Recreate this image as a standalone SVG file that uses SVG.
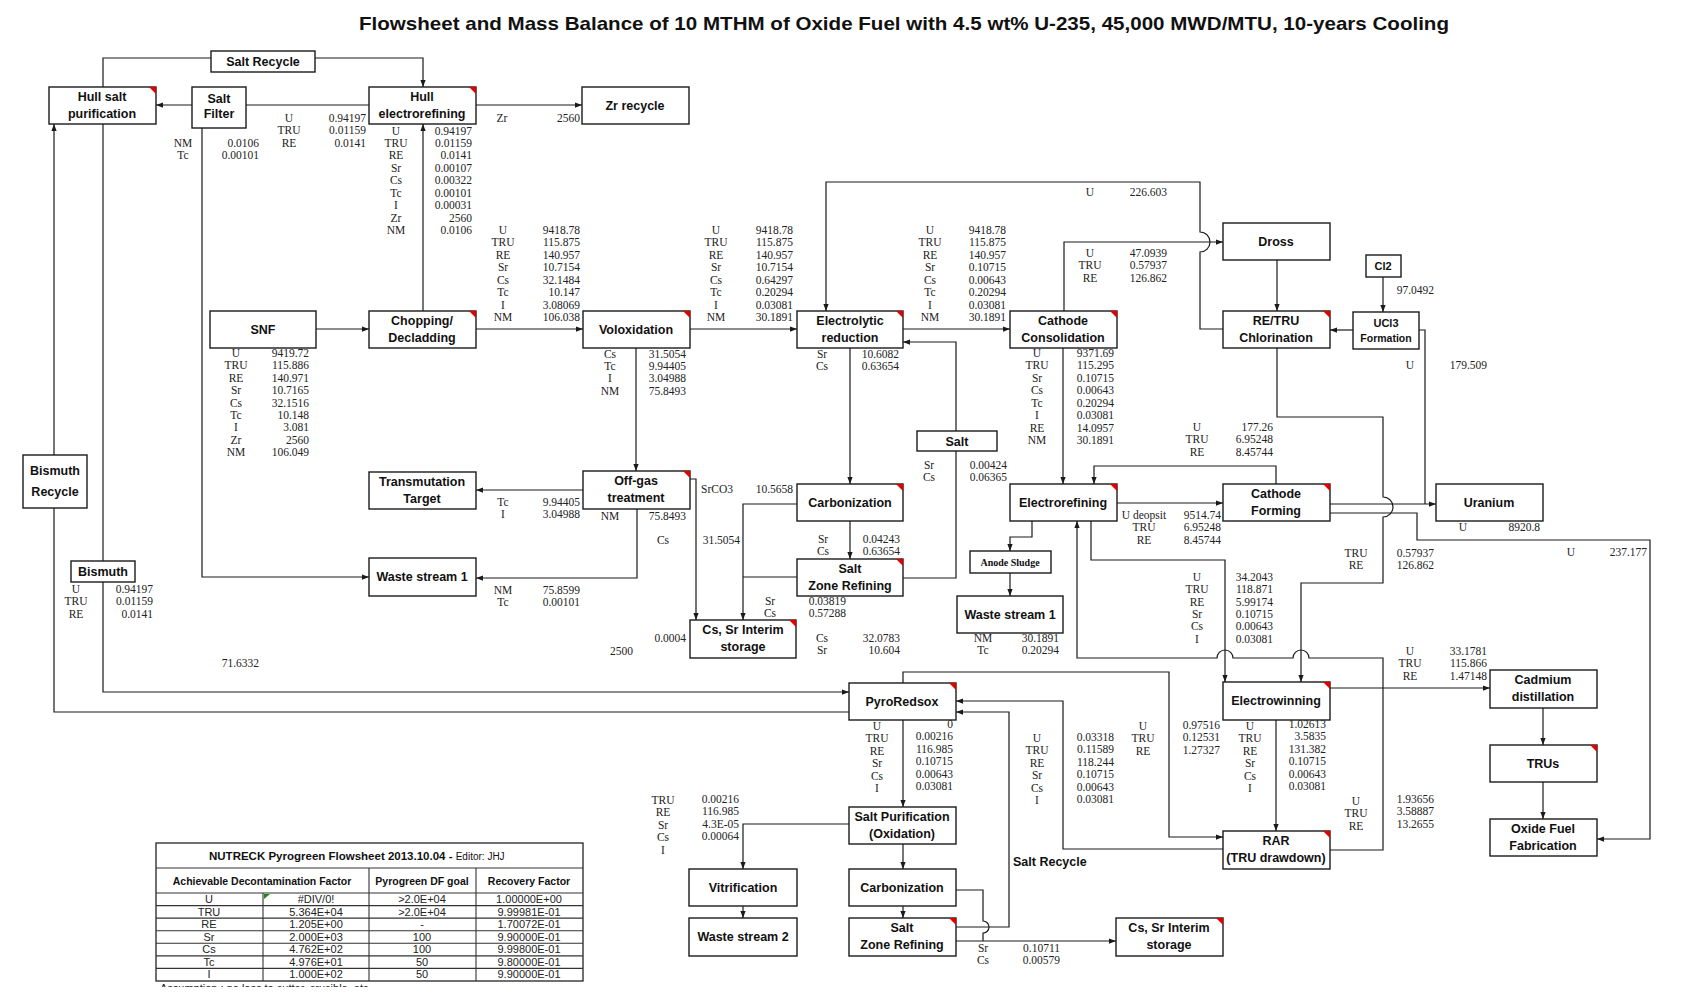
<svg xmlns="http://www.w3.org/2000/svg" width="1681" height="997" viewBox="0 0 1681 997">
<defs>
<style>
.b{fill:#fff;stroke:#1a1a1a;stroke-width:1.4}
.r{fill:#e00000}
.t{font-family:"Liberation Sans",Arial,sans-serif;font-weight:bold;font-size:12.5px;text-anchor:middle;fill:#111}
.ts{font-family:"Liberation Sans",Arial,sans-serif;font-weight:bold;font-size:12.5px;text-anchor:start;fill:#111}
.c{fill:none;stroke:#1a1a1a;stroke-width:1.2}
.a{marker-end:url(#ah)}
.m{font-family:"Liberation Serif","Times New Roman",serif;font-size:11.5px;fill:#222;text-anchor:middle}
.e{font-family:"Liberation Serif","Times New Roman",serif;font-size:11.5px;fill:#222;text-anchor:end}
.s{font-family:"Liberation Serif","Times New Roman",serif;font-size:11.5px;fill:#222;text-anchor:start}
.tb{font-family:"Liberation Sans",Arial,sans-serif;font-size:11px;fill:#222;text-anchor:middle}
.th{font-family:"Liberation Sans",Arial,sans-serif;font-size:10.5px;font-weight:bold;fill:#111;text-anchor:middle}
.tl{fill:none;stroke:#333;stroke-width:1.1}
</style>
<marker id="ah" viewBox="0 0 8 8" refX="8" refY="4" markerWidth="7" markerHeight="7" orient="auto" markerUnits="userSpaceOnUse"><path d="M0,1 L8,4 L0,7 z" fill="#1a1a1a"/></marker>
<clipPath id="cut"><rect x="0" y="960" width="700" height="27"/></clipPath>
</defs>
<rect width="1681" height="997" fill="#fff"/>
<text x="904" y="30" font-family="'Liberation Sans',Arial,sans-serif" font-weight="bold" font-size="19" text-anchor="middle" fill="#111" textLength="1090" lengthAdjust="spacingAndGlyphs">Flowsheet and Mass Balance of 10 MTHM of Oxide Fuel with 4.5 wt% U-235, 45,000 MWD/MTU, 10-years Cooling</text>

<g id="connectors">
<path class="c" d="M103,87V58H211"/>
<path class="c a" d="M315,58H423V87"/>
<path class="c" d="M369,105H246"/>
<path class="c a" d="M192,105H156"/>
<path class="c a" d="M476,105H582"/>
<path class="c a" d="M423,311V124"/>
<path class="c a" d="M316,329H369"/>
<path class="c a" d="M476,329H583"/>
<path class="c a" d="M690,329H797"/>
<path class="c a" d="M903,329H1010"/>
<path class="c a" d="M1223,329H1200V252A10,10 0 0 0 1200,232V182H826V311"/>
<path class="c a" d="M1064,311V242H1223"/>
<path class="c a" d="M1277,260V311"/>
<path class="c a" d="M1383,277V312"/>
<path class="c a" d="M1353,330H1330"/>
<path class="c" d="M1419,330H1425V504"/>
<path class="c a" d="M1063,348V484"/>
<path class="c a" d="M850,348V484"/>
<path class="c a" d="M850,521V559"/>
<path class="c" d="M903,578H956V451"/>
<path class="c a" d="M956,431V342H903"/>
<path class="c a" d="M1117,503H1223"/>
<path class="c a" d="M1276,484V466H1094V484"/>
<path class="c a" d="M1330,504H1436"/>
<path class="c a" d="M1330,513H1417V540H1650V839H1597"/>
<path class="c a" d="M1277,348V417H1383V497A10,10 0 0 1 1383,517V583H1301V682"/>
<path class="c a" d="M1091,521V560H1225V682"/>
<path class="c a" d="M1330,850H1383V658H1309A8,8 0 0 0 1293,658H1233A8,8 0 0 0 1217,658H1077V521"/>
<path class="c a" d="M1276,720V831"/>
<path class="c a" d="M1330,688H1490"/>
<path class="c a" d="M1543,708V745"/>
<path class="c a" d="M1543,782V819"/>
<path class="c a" d="M903,683V672H1169V837H1223"/>
<path class="c a" d="M1223,849H1063V701H956"/>
<path class="c a" d="M956,927H1009V712H956"/>
<path class="c a" d="M903,720V807"/>
<path class="c a" d="M849,824H743V869"/>
<path class="c a" d="M903,844V869"/>
<path class="c a" d="M903,906V918"/>
<path class="c a" d="M743,906V918"/>
<path class="c" d="M956,890H983V921A6,6 0 0 1 983,933V941"/>
<path class="c a" d="M956,941H1116"/>
<path class="c a" d="M636,348V471"/>
<path class="c a" d="M583,490H476"/>
<path class="c a" d="M637,509V578H476"/>
<path class="c a" d="M690,479H696V620"/>
<path class="c a" d="M797,504H743V620"/>
<path class="c" d="M797,577H743"/>
<path class="c a" d="M1032,521V537H1010V551"/>
<path class="c a" d="M1010,573V596"/>
<path class="c a" d="M202,128V577H369"/>
<path class="c" d="M103,124V561"/>
<path class="c a" d="M103,582V692H849"/>
<path class="c" d="M849,712H54V508"/>
<path class="c a" d="M54,455V124"/>
</g>

<g id="n-salt-recycle"><rect class="b" x="211" y="51" width="104" height="21"/><text class="t" x="263" y="66">Salt Recycle</text></g>
<g id="n-hull-salt"><rect class="b" x="49" y="87" width="107" height="37"/><polygon class="r" points="149,87 156,87 156,94"/><text class="t" x="102" y="101">Hull salt</text><text class="t" x="102" y="118">purification</text></g>
<g id="n-salt-filter"><rect class="b" x="192" y="87" width="54" height="41"/><text class="t" x="219" y="103">Salt</text><text class="t" x="219" y="118">Filter</text></g>
<g id="n-hull-er"><rect class="b" x="369" y="87" width="107" height="37"/><polygon class="r" points="469,87 476,87 476,94"/><text class="t" x="422" y="101">Hull</text><text class="t" x="422" y="118">electrorefining</text></g>
<g id="n-zr"><rect class="b" x="582" y="87" width="107" height="37"/><text class="t" x="635" y="110">Zr recycle</text></g>
<g id="n-snf"><rect class="b" x="210" y="311" width="106" height="37"/><text class="t" x="263" y="334">SNF</text></g>
<g id="n-chop"><rect class="b" x="369" y="311" width="107" height="37"/><polygon class="r" points="469,311 476,311 476,318"/><text class="t" x="422" y="325">Chopping/</text><text class="t" x="422" y="342">Decladding</text></g>
<g id="n-volox"><rect class="b" x="583" y="311" width="107" height="37"/><polygon class="r" points="683,311 690,311 690,318"/><text class="t" x="636" y="334">Voloxidation</text></g>
<g id="n-elred"><rect class="b" x="797" y="311" width="106" height="37"/><polygon class="r" points="896,311 903,311 903,318"/><text class="t" x="850" y="325">Electrolytic</text><text class="t" x="850" y="342">reduction</text></g>
<g id="n-cathcons"><rect class="b" x="1010" y="311" width="107" height="37"/><polygon class="r" points="1110,311 1117,311 1117,318"/><text class="t" x="1063" y="325">Cathode</text><text class="t" x="1063" y="342">Consolidation</text></g>
<g id="n-dross"><rect class="b" x="1223" y="223" width="107" height="37"/><text class="t" x="1276" y="246">Dross</text></g>
<g id="n-retru"><rect class="b" x="1223" y="311" width="107" height="37"/><polygon class="r" points="1323,311 1330,311 1330,318"/><text class="t" x="1276" y="325">RE/TRU</text><text class="t" x="1276" y="342">Chlorination</text></g>
<g id="n-cl2"><rect class="b" x="1366" y="255" width="35" height="22"/><text class="t" x="1383" y="270" style="font-size:11px">Cl2</text></g>
<g id="n-ucl3"><rect class="b" x="1353" y="312" width="66" height="37"/><text class="t" x="1386" y="327" style="font-size:11px">UCl3</text><text class="t" x="1386" y="342" style="font-size:10.5px">Formation</text></g>
<g id="n-bi-recycle"><rect class="b" x="23" y="455" width="64" height="53"/><text class="t" x="55" y="475">Bismuth</text><text class="t" x="55" y="496">Recycle</text></g>
<g id="n-transmut"><rect class="b" x="369" y="472" width="107" height="37"/><text class="t" x="422" y="486">Transmutation</text><text class="t" x="422" y="503">Target</text></g>
<g id="n-offgas"><rect class="b" x="583" y="471" width="107" height="38"/><polygon class="r" points="683,471 690,471 690,478"/><text class="t" x="636" y="485">Off-gas</text><text class="t" x="636" y="502">treatment</text></g>
<g id="n-carb-u"><rect class="b" x="797" y="484" width="106" height="37"/><polygon class="r" points="896,484 903,484 903,491"/><text class="t" x="850" y="507">Carbonization</text></g>
<g id="n-salt"><rect class="b" x="917" y="431" width="80" height="20"/><text class="t" x="957" y="445.5">Salt</text></g>
<g id="n-er"><rect class="b" x="1010" y="484" width="107" height="37"/><polygon class="r" points="1110,484 1117,484 1117,491"/><text class="t" x="1063" y="507">Electrorefining</text></g>
<g id="n-cathform"><rect class="b" x="1223" y="484" width="107" height="37"/><polygon class="r" points="1323,484 1330,484 1330,491"/><text class="t" x="1276" y="498">Cathode</text><text class="t" x="1276" y="515">Forming</text></g>
<g id="n-uranium"><rect class="b" x="1436" y="484" width="107" height="37"/><text class="t" x="1489" y="507">Uranium</text></g>
<g id="n-bismuth"><rect class="b" x="71" y="561" width="64" height="21"/><text class="t" x="103" y="576">Bismuth</text></g>
<g id="n-ws1-l"><rect class="b" x="369" y="558" width="107" height="38"/><text class="t" x="422" y="581">Waste stream 1</text></g>
<g id="n-szr-u"><rect class="b" x="797" y="559" width="106" height="37"/><polygon class="r" points="896,559 903,559 903,566"/><text class="t" x="850" y="573">Salt</text><text class="t" x="850" y="590">Zone Refining</text></g>
<g id="n-anode"><rect class="b" x="970" y="551" width="81" height="22"/><text x="1010" y="566" font-family="'Liberation Serif',serif" font-weight="bold" font-size="10" text-anchor="middle" fill="#111">Anode Sludge</text></g>
<g id="n-ws1-r"><rect class="b" x="957" y="596" width="106" height="37"/><text class="t" x="1010" y="619">Waste stream 1</text></g>
<g id="n-cssr-u"><rect class="b" x="690" y="620" width="106" height="38"/><polygon class="r" points="789,620 796,620 796,627"/><text class="t" x="743" y="634">Cs, Sr Interim</text><text class="t" x="743" y="651">storage</text></g>
<g id="n-pyro"><rect class="b" x="849" y="683" width="107" height="37"/><polygon class="r" points="949,683 956,683 956,690"/><text class="t" x="902" y="706">PyroRedsox</text></g>
<g id="n-cadmium"><rect class="b" x="1490" y="670" width="107" height="38"/><text class="t" x="1543" y="684">Cadmium</text><text class="t" x="1543" y="701">distillation</text></g>
<g id="n-ew"><rect class="b" x="1223" y="682" width="107" height="38"/><polygon class="r" points="1323,682 1330,682 1330,689"/><text class="t" x="1276" y="705">Electrowinning</text></g>
<g id="n-trus"><rect class="b" x="1490" y="745" width="107" height="37"/><polygon class="r" points="1590,745 1597,745 1597,752"/><text class="t" x="1543" y="768">TRUs</text></g>
<g id="n-saltpurif"><rect class="b" x="849" y="807" width="107" height="37"/><text class="t" x="902" y="821">Salt Purification</text><text class="t" x="902" y="838">(Oxidation)</text></g>
<g id="n-rar"><rect class="b" x="1223" y="831" width="107" height="38"/><polygon class="r" points="1323,831 1330,831 1330,838"/><text class="t" x="1276" y="845">RAR</text><text class="t" x="1276" y="862">(TRU drawdown)</text></g>
<g id="n-oxide"><rect class="b" x="1490" y="819" width="107" height="37"/><text class="t" x="1543" y="833">Oxide Fuel</text><text class="t" x="1543" y="850">Fabrication</text></g>
<g id="n-vitri"><rect class="b" x="689" y="869" width="108" height="37"/><text class="t" x="743" y="892">Vitrification</text></g>
<g id="n-carb-l"><rect class="b" x="849" y="869" width="107" height="37"/><text class="t" x="902" y="892">Carbonization</text></g>
<g id="n-ws2"><rect class="b" x="689" y="918" width="108" height="38"/><text class="t" x="743" y="941">Waste stream 2</text></g>
<g id="n-szr-l"><rect class="b" x="849" y="918" width="107" height="38"/><polygon class="r" points="949,918 956,918 956,925"/><text class="t" x="902" y="932">Salt</text><text class="t" x="902" y="949">Zone Refining</text></g>
<g id="n-cssr-l"><rect class="b" x="1116" y="918" width="107" height="38"/><polygon class="r" points="1216,918 1223,918 1223,925"/><text class="t" x="1169" y="932">Cs, Sr Interim</text><text class="t" x="1169" y="949">storage</text></g>

<g id="labels">
<text class="ts" x="1013" y="866">Salt Recycle</text>
<text class="m"><tspan x="289" y="122">U</tspan><tspan x="289" dy="12.4">TRU</tspan><tspan x="289" dy="12.4">RE</tspan></text>
<text class="e"><tspan x="366" y="122">0.94197</tspan><tspan x="366" dy="12.4">0.01159</tspan><tspan x="366" dy="12.4">0.0141</tspan></text>
<text class="m"><tspan x="183" y="147">NM</tspan><tspan x="183" dy="12.4">Tc</tspan></text>
<text class="e"><tspan x="259" y="147">0.0106</tspan><tspan x="259" dy="12.4">0.00101</tspan></text>
<text class="m"><tspan x="396" y="134.5">U</tspan><tspan x="396" dy="12.45">TRU</tspan><tspan x="396" dy="12.45">RE</tspan><tspan x="396" dy="12.45">Sr</tspan><tspan x="396" dy="12.45">Cs</tspan><tspan x="396" dy="12.45">Tc</tspan><tspan x="396" dy="12.45">I</tspan><tspan x="396" dy="12.45">Zr</tspan><tspan x="396" dy="12.45">NM</tspan></text>
<text class="e"><tspan x="472" y="134.5">0.94197</tspan><tspan x="472" dy="12.45">0.01159</tspan><tspan x="472" dy="12.45">0.0141</tspan><tspan x="472" dy="12.45">0.00107</tspan><tspan x="472" dy="12.45">0.00322</tspan><tspan x="472" dy="12.45">0.00101</tspan><tspan x="472" dy="12.45">0.00031</tspan><tspan x="472" dy="12.45">2560</tspan><tspan x="472" dy="12.45">0.0106</tspan></text>
<text class="m" x="502" y="122">Zr</text><text class="e" x="580" y="122">2560</text>
<text class="m"><tspan x="503" y="234">U</tspan><tspan x="503" dy="12.45">TRU</tspan><tspan x="503" dy="12.45">RE</tspan><tspan x="503" dy="12.45">Sr</tspan><tspan x="503" dy="12.45">Cs</tspan><tspan x="503" dy="12.45">Tc</tspan><tspan x="503" dy="12.45">I</tspan><tspan x="503" dy="12.45">NM</tspan></text>
<text class="e"><tspan x="580" y="234">9418.78</tspan><tspan x="580" dy="12.45">115.875</tspan><tspan x="580" dy="12.45">140.957</tspan><tspan x="580" dy="12.45">10.7154</tspan><tspan x="580" dy="12.45">32.1484</tspan><tspan x="580" dy="12.45">10.147</tspan><tspan x="580" dy="12.45">3.08069</tspan><tspan x="580" dy="12.45">106.038</tspan></text>
<text class="m"><tspan x="716" y="234">U</tspan><tspan x="716" dy="12.45">TRU</tspan><tspan x="716" dy="12.45">RE</tspan><tspan x="716" dy="12.45">Sr</tspan><tspan x="716" dy="12.45">Cs</tspan><tspan x="716" dy="12.45">Tc</tspan><tspan x="716" dy="12.45">I</tspan><tspan x="716" dy="12.45">NM</tspan></text>
<text class="e"><tspan x="793" y="234">9418.78</tspan><tspan x="793" dy="12.45">115.875</tspan><tspan x="793" dy="12.45">140.957</tspan><tspan x="793" dy="12.45">10.7154</tspan><tspan x="793" dy="12.45">0.64297</tspan><tspan x="793" dy="12.45">0.20294</tspan><tspan x="793" dy="12.45">0.03081</tspan><tspan x="793" dy="12.45">30.1891</tspan></text>
<text class="m"><tspan x="930" y="234">U</tspan><tspan x="930" dy="12.45">TRU</tspan><tspan x="930" dy="12.45">RE</tspan><tspan x="930" dy="12.45">Sr</tspan><tspan x="930" dy="12.45">Cs</tspan><tspan x="930" dy="12.45">Tc</tspan><tspan x="930" dy="12.45">I</tspan><tspan x="930" dy="12.45">NM</tspan></text>
<text class="e"><tspan x="1006" y="234">9418.78</tspan><tspan x="1006" dy="12.45">115.875</tspan><tspan x="1006" dy="12.45">140.957</tspan><tspan x="1006" dy="12.45">0.10715</tspan><tspan x="1006" dy="12.45">0.00643</tspan><tspan x="1006" dy="12.45">0.20294</tspan><tspan x="1006" dy="12.45">0.03081</tspan><tspan x="1006" dy="12.45">30.1891</tspan></text>
<text class="m"><tspan x="236" y="357">U</tspan><tspan x="236" dy="12.4">TRU</tspan><tspan x="236" dy="12.4">RE</tspan><tspan x="236" dy="12.4">Sr</tspan><tspan x="236" dy="12.4">Cs</tspan><tspan x="236" dy="12.4">Tc</tspan><tspan x="236" dy="12.4">I</tspan><tspan x="236" dy="12.4">Zr</tspan><tspan x="236" dy="12.4">NM</tspan></text>
<text class="e"><tspan x="309" y="357">9419.72</tspan><tspan x="309" dy="12.4">115.886</tspan><tspan x="309" dy="12.4">140.971</tspan><tspan x="309" dy="12.4">10.7165</tspan><tspan x="309" dy="12.4">32.1516</tspan><tspan x="309" dy="12.4">10.148</tspan><tspan x="309" dy="12.4">3.081</tspan><tspan x="309" dy="12.4">2560</tspan><tspan x="309" dy="12.4">106.049</tspan></text>
<text class="m"><tspan x="610" y="357.5">Cs</tspan><tspan x="610" dy="12.45">Tc</tspan><tspan x="610" dy="12.45">I</tspan><tspan x="610" dy="12.45">NM</tspan></text>
<text class="e"><tspan x="686" y="357.5">31.5054</tspan><tspan x="686" dy="12.45">9.94405</tspan><tspan x="686" dy="12.45">3.04988</tspan><tspan x="686" dy="12.45">75.8493</tspan></text>
<text class="m"><tspan x="822" y="357.5">Sr</tspan><tspan x="822" dy="12.45">Cs</tspan></text>
<text class="e"><tspan x="899" y="357.5">10.6082</tspan><tspan x="899" dy="12.45">0.63654</tspan></text>
<text class="m" x="1090" y="196">U</text><text class="e" x="1167" y="196">226.603</text>
<text class="m"><tspan x="1090" y="257">U</tspan><tspan x="1090" dy="12.45">TRU</tspan><tspan x="1090" dy="12.45">RE</tspan></text>
<text class="e"><tspan x="1167" y="257">47.0939</tspan><tspan x="1167" dy="12.45">0.57937</tspan><tspan x="1167" dy="12.45">126.862</tspan></text>
<text class="m"><tspan x="1037" y="357">U</tspan><tspan x="1037" dy="12.45">TRU</tspan><tspan x="1037" dy="12.45">Sr</tspan><tspan x="1037" dy="12.45">Cs</tspan><tspan x="1037" dy="12.45">Tc</tspan><tspan x="1037" dy="12.45">I</tspan><tspan x="1037" dy="12.45">RE</tspan><tspan x="1037" dy="12.45">NM</tspan></text>
<text class="e"><tspan x="1114" y="357">9371.69</tspan><tspan x="1114" dy="12.45">115.295</tspan><tspan x="1114" dy="12.45">0.10715</tspan><tspan x="1114" dy="12.45">0.00643</tspan><tspan x="1114" dy="12.45">0.20294</tspan><tspan x="1114" dy="12.45">0.03081</tspan><tspan x="1114" dy="12.45">14.0957</tspan><tspan x="1114" dy="12.45">30.1891</tspan></text>
<text class="e" x="1434" y="294">97.0492</text>
<text class="m" x="1410" y="369">U</text><text class="e" x="1487" y="369">179.509</text>
<text class="m"><tspan x="1197" y="431">U</tspan><tspan x="1197" dy="12.45">TRU</tspan><tspan x="1197" dy="12.45">RE</tspan></text>
<text class="e"><tspan x="1273" y="431">177.26</tspan><tspan x="1273" dy="12.45">6.95248</tspan><tspan x="1273" dy="12.45">8.45744</tspan></text>
<text class="m"><tspan x="1144" y="519">U deopsit</tspan><tspan x="1144" dy="12.45">TRU</tspan><tspan x="1144" dy="12.45">RE</tspan></text>
<text class="e"><tspan x="1221" y="519">9514.74</tspan><tspan x="1221" dy="12.45">6.95248</tspan><tspan x="1221" dy="12.45">8.45744</tspan></text>
<text class="m" x="1463" y="531">U</text><text class="e" x="1540" y="531">8920.8</text>
<text class="m"><tspan x="1356" y="557">TRU</tspan><tspan x="1356" dy="12.45">RE</tspan></text>
<text class="e"><tspan x="1434" y="557">0.57937</tspan><tspan x="1434" dy="12.45">126.862</tspan></text>
<text class="m" x="1571" y="556">U</text><text class="e" x="1647" y="556">237.177</text>
<text class="m"><tspan x="1197" y="581">U</tspan><tspan x="1197" dy="12.35">TRU</tspan><tspan x="1197" dy="12.35">RE</tspan><tspan x="1197" dy="12.35">Sr</tspan><tspan x="1197" dy="12.35">Cs</tspan><tspan x="1197" dy="12.35">I</tspan></text>
<text class="e"><tspan x="1273" y="581">34.2043</tspan><tspan x="1273" dy="12.35">118.871</tspan><tspan x="1273" dy="12.35">5.99174</tspan><tspan x="1273" dy="12.35">0.10715</tspan><tspan x="1273" dy="12.35">0.00643</tspan><tspan x="1273" dy="12.35">0.03081</tspan></text>
<text class="m"><tspan x="503" y="506">Tc</tspan><tspan x="503" dy="12.45">I</tspan></text>
<text class="e"><tspan x="580" y="506">9.94405</tspan><tspan x="580" dy="12.45">3.04988</tspan></text>
<text class="m" x="610" y="520">NM</text><text class="e" x="686" y="520">75.8493</text>
<text class="s" x="701" y="493">SrCO3</text><text class="e" x="793" y="493">10.5658</text>
<text class="m" x="663" y="544">Cs</text><text class="e" x="740" y="544">31.5054</text>
<text class="m"><tspan x="503" y="594">NM</tspan><tspan x="503" dy="12.45">Tc</tspan></text>
<text class="e"><tspan x="580" y="594">75.8599</tspan><tspan x="580" dy="12.45">0.00101</tspan></text>
<text class="m"><tspan x="823" y="543">Sr</tspan><tspan x="823" dy="12.45">Cs</tspan></text>
<text class="e"><tspan x="900" y="543">0.04243</tspan><tspan x="900" dy="12.45">0.63654</tspan></text>
<text class="m"><tspan x="770" y="605">Sr</tspan><tspan x="770" dy="12.45">Cs</tspan></text>
<text class="e"><tspan x="846" y="605">0.03819</tspan><tspan x="846" dy="12.45">0.57288</tspan></text>
<text class="e" x="686" y="642">0.0004</text><text class="e" x="633" y="655">2500</text>
<text class="m"><tspan x="822" y="642">Cs</tspan><tspan x="822" dy="12.45">Sr</tspan></text>
<text class="e"><tspan x="900" y="642">32.0783</tspan><tspan x="900" dy="12.45">10.604</tspan></text>
<text class="m"><tspan x="929" y="469">Sr</tspan><tspan x="929" dy="12.45">Cs</tspan></text>
<text class="e"><tspan x="1007" y="469">0.00424</tspan><tspan x="1007" dy="12.45">0.06365</tspan></text>
<text class="m"><tspan x="983" y="642">NM</tspan><tspan x="983" dy="12.45">Tc</tspan></text>
<text class="e"><tspan x="1059" y="642">30.1891</tspan><tspan x="1059" dy="12.45">0.20294</tspan></text>
<text class="m"><tspan x="76" y="593">U</tspan><tspan x="76" dy="12.45">TRU</tspan><tspan x="76" dy="12.45">RE</tspan></text>
<text class="e"><tspan x="153" y="593">0.94197</tspan><tspan x="153" dy="12.45">0.01159</tspan><tspan x="153" dy="12.45">0.0141</tspan></text>
<text class="e" x="259" y="667">71.6332</text>
<text class="m"><tspan x="877" y="730">U</tspan><tspan x="877" dy="12.4">TRU</tspan><tspan x="877" dy="12.4">RE</tspan><tspan x="877" dy="12.4">Sr</tspan><tspan x="877" dy="12.4">Cs</tspan><tspan x="877" dy="12.4">I</tspan></text>
<text class="e"><tspan x="953" y="728">0</tspan><tspan x="953" dy="12.4">0.00216</tspan><tspan x="953" dy="12.4">116.985</tspan><tspan x="953" dy="12.4">0.10715</tspan><tspan x="953" dy="12.4">0.00643</tspan><tspan x="953" dy="12.4">0.03081</tspan></text>
<text class="m"><tspan x="663" y="804">TRU</tspan><tspan x="663" dy="12.4">RE</tspan><tspan x="663" dy="12.4">Sr</tspan><tspan x="663" dy="12.4">Cs</tspan><tspan x="663" dy="12.4">I</tspan></text>
<text class="e"><tspan x="739" y="803">0.00216</tspan><tspan x="739" dy="12.4">116.985</tspan><tspan x="739" dy="12.4">4.3E-05</tspan><tspan x="739" dy="12.4">0.00064</tspan></text>
<text class="m"><tspan x="1037" y="742">U</tspan><tspan x="1037" dy="12.4">TRU</tspan><tspan x="1037" dy="12.4">RE</tspan><tspan x="1037" dy="12.4">Sr</tspan><tspan x="1037" dy="12.4">Cs</tspan><tspan x="1037" dy="12.4">I</tspan></text>
<text class="e"><tspan x="1114" y="741">0.03318</tspan><tspan x="1114" dy="12.4">0.11589</tspan><tspan x="1114" dy="12.4">118.244</tspan><tspan x="1114" dy="12.4">0.10715</tspan><tspan x="1114" dy="12.4">0.00643</tspan><tspan x="1114" dy="12.4">0.03081</tspan></text>
<text class="m"><tspan x="1143" y="730">U</tspan><tspan x="1143" dy="12.45">TRU</tspan><tspan x="1143" dy="12.45">RE</tspan></text>
<text class="e"><tspan x="1220" y="729">0.97516</tspan><tspan x="1220" dy="12.45">0.12531</tspan><tspan x="1220" dy="12.45">1.27327</tspan></text>
<text class="m"><tspan x="1250" y="730">U</tspan><tspan x="1250" dy="12.4">TRU</tspan><tspan x="1250" dy="12.4">RE</tspan><tspan x="1250" dy="12.4">Sr</tspan><tspan x="1250" dy="12.4">Cs</tspan><tspan x="1250" dy="12.4">I</tspan></text>
<text class="e"><tspan x="1326" y="728">1.02613</tspan><tspan x="1326" dy="12.4">3.5835</tspan><tspan x="1326" dy="12.4">131.382</tspan><tspan x="1326" dy="12.4">0.10715</tspan><tspan x="1326" dy="12.4">0.00643</tspan><tspan x="1326" dy="12.4">0.03081</tspan></text>
<text class="m"><tspan x="1410" y="655">U</tspan><tspan x="1410" dy="12.45">TRU</tspan><tspan x="1410" dy="12.45">RE</tspan></text>
<text class="e"><tspan x="1487" y="655">33.1781</tspan><tspan x="1487" dy="12.45">115.866</tspan><tspan x="1487" dy="12.45">1.47148</tspan></text>
<text class="m"><tspan x="1356" y="805">U</tspan><tspan x="1356" dy="12.45">TRU</tspan><tspan x="1356" dy="12.45">RE</tspan></text>
<text class="e"><tspan x="1434" y="803">1.93656</tspan><tspan x="1434" dy="12.45">3.58887</tspan><tspan x="1434" dy="12.45">13.2655</tspan></text>
<text class="m"><tspan x="983" y="952">Sr</tspan><tspan x="983" dy="12.45">Cs</tspan></text>
<text class="e"><tspan x="1060" y="952">0.10711</tspan><tspan x="1060" dy="12.45">0.00579</tspan></text>
</g>

<g id="table">
<rect x="156" y="843" width="427" height="138" fill="#fff" stroke="#333" stroke-width="1.4"/>
<path class="tl" d="M156,868H583M156,893H583M156,905.6H583M156,918.1H583M156,930.7H583M156,943.3H583M156,955.9H583M156,968.4H583M369,868V981M476,868V981M263,893V981"/>
<polygon points="264,894 270,894 264,899" fill="#1a8a1a"/>
<text x="209" y="860" font-family="'Liberation Sans',Arial,sans-serif" fill="#111"><tspan font-weight="bold" font-size="11.5">NUTRECK Pyrogreen Flowsheet 2013.10.04 - </tspan><tspan font-size="10">Editor: JHJ</tspan></text>
<text class="th" x="262" y="885">Achievable Decontamination Factor</text>
<text class="th" x="422" y="885">Pyrogreen DF goal</text>
<text class="th" x="529" y="885">Recovery Factor</text>
<text class="tb"><tspan x="209" y="903">U</tspan><tspan x="209" dy="12.57">TRU</tspan><tspan x="209" dy="12.57">RE</tspan><tspan x="209" dy="12.57">Sr</tspan><tspan x="209" dy="12.57">Cs</tspan><tspan x="209" dy="12.57">Tc</tspan><tspan x="209" dy="12.57">I</tspan></text>
<text class="tb"><tspan x="316" y="903">#DIV/0!</tspan><tspan x="316" dy="12.57">5.364E+04</tspan><tspan x="316" dy="12.57">1.205E+00</tspan><tspan x="316" dy="12.57">2.000E+03</tspan><tspan x="316" dy="12.57">4.762E+02</tspan><tspan x="316" dy="12.57">4.976E+01</tspan><tspan x="316" dy="12.57">1.000E+02</tspan></text>
<text class="tb"><tspan x="422" y="903">&gt;2.0E+04</tspan><tspan x="422" dy="12.57">&gt;2.0E+04</tspan><tspan x="422" dy="12.57">-</tspan><tspan x="422" dy="12.57">100</tspan><tspan x="422" dy="12.57">100</tspan><tspan x="422" dy="12.57">50</tspan><tspan x="422" dy="12.57">50</tspan></text>
<text class="tb"><tspan x="529" y="903">1.00000E+00</tspan><tspan x="529" dy="12.57">9.99981E-01</tspan><tspan x="529" dy="12.57">1.70072E-01</tspan><tspan x="529" dy="12.57">9.90000E-01</tspan><tspan x="529" dy="12.57">9.99800E-01</tspan><tspan x="529" dy="12.57">9.80000E-01</tspan><tspan x="529" dy="12.57">9.90000E-01</tspan></text>
<text x="160" y="992" font-family="'Liberation Sans',Arial,sans-serif" font-size="11" fill="#222" clip-path="url(#cut)">Assumption : no loss to cutter, crucible, etc</text>
</g>
</svg>
